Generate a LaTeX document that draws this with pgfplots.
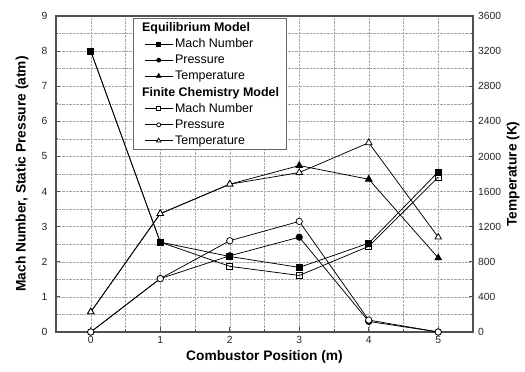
\documentclass[border=0pt]{standalone}
\usepackage{pgfplots}
\pgfplotsset{compat=1.18}
\usepackage{fontspec}
\setmainfont{Liberation Sans}
\setsansfont{Liberation Sans}
\definecolor{framec}{RGB}{80,80,80}
\definecolor{gridc}{RGB}{165,165,165}
\begin{document}
\begin{tikzpicture}
\pgfplotsset{
  common/.style={
    width=417bp, height=316bp, scale only axis,
    xmin=-0.5, xmax=5.5,
    /pgf/number format/assume math mode=true,
    /pgf/number format/1000 sep={},
    tick label style={font=\fontsize{10.4}{12}\selectfont, text=black!85},
    label style={font=\fontsize{13.8}{16}\selectfont\bfseries},
    axis line style={framec, line width=1.2pt},
    tick style={framec, line width=0.8pt},
    tick align=inside,
    major tick length=4.5bp, minor tick length=2.5bp,
  },
  every axis plot/.append style={black, line width=0.75pt},
}
\begin{axis}[common, name=ax,
  ymin=0, ymax=9,
  xtick={0,1,2,3,4,5}, minor x tick num=1,
  ytick={0,1,...,9}, minor y tick num=1,
  xtick pos=bottom, ytick pos=left,
  grid=both,
  major grid style={gridc, densely dotted, line width=0.5pt},
  minor grid style={gridc, densely dotted, line width=0.5pt},
  xlabel={Combustor Position (m)},
  ylabel={Mach Number, Static Pressure (atm)},
  xlabel style={at={(axis description cs:0.5,-0.08)}, anchor=center},
  ylabel style={at={(axis description cs:-0.0815,0.5)}, anchor=center},
  yticklabel style={xshift=-5bp},
  xticklabel style={yshift=-1bp},
]
% Equilibrium Mach
\addplot[mark=square*, mark options={fill=black, mark size=3pt}] coordinates {(0,8.0) (1,2.56) (2,2.15) (3,1.84) (4,2.53) (5,4.56)};
% Finite Mach
\addplot[mark=square, mark options={fill=white, mark size=3pt}] coordinates {(0,8.0) (1,2.56) (2,1.87) (3,1.61) (4,2.44) (5,4.41)};
% Equilibrium pressure
\addplot[mark=*, mark options={fill=black, mark size=3.2pt}] coordinates {(0,0.0) (1,1.52) (2,2.17) (3,2.70) (4,0.30) (5,0.0)};
% Finite pressure
\addplot[mark=*, mark options={fill=white, mark size=3.2pt}] coordinates {(0,0.0) (1,1.52) (2,2.60) (3,3.15) (4,0.34) (5,0.0)};
\end{axis}
\begin{axis}[common,
  ymin=0, ymax=3600,
  ytick={0,400,...,3600}, minor y tick num=1,
  axis y line*=right, axis x line=none,
  ylabel={Temperature (K)},
  ylabel style={at={(axis description cs:1.0959,0.5)}, anchor=center},
  yticklabel style={xshift=1.5bp},
  legend style={at={(0.1847,0.9937)}, anchor=north west, draw=black!60, line width=0.7pt,
    fill=white, font=\fontsize{12.5}{14}\selectfont, row sep=1.9pt, inner ysep=2pt, inner xsep=5pt},
  legend cell align=left,
  legend image code/.code={\path (0bp,0bp); \draw[mark repeat=2, mark phase=2] plot coordinates {(6bp,0bp) (20bp,0bp) (34bp,0bp)};},
]
\addlegendimage{empty legend}\addlegendentry{\hspace*{-33bp}\textbf{Equilibrium Model}}
\addlegendimage{black, line width=0.75pt, mark=square*, mark options={fill=black, mark size=2pt}}\addlegendentry{Mach Number}
\addlegendimage{black, line width=0.75pt, mark=*, mark options={fill=black, mark size=2pt}}\addlegendentry{Pressure}
\addplot[mark=triangle*, mark options={fill=black, mark size=3.8pt}, forget plot] coordinates {(0,228) (1,1348) (2,1684) (3,1896) (4,1740) (5,844)};
\addlegendimage{black, line width=0.75pt, mark=triangle*, mark options={fill=black, mark size=2.6pt}}\addlegendentry{Temperature}
\addlegendimage{empty legend}\addlegendentry{\hspace*{-33bp}\textbf{Finite Chemistry Model}}
\addlegendimage{black, line width=0.75pt, mark=square*, mark options={fill=white, mark size=2pt}}\addlegendentry{Mach Number}
\addlegendimage{black, line width=0.75pt, mark=*, mark options={fill=white, mark size=2pt}}\addlegendentry{Pressure}
\addplot[mark=triangle*, mark options={fill=white, mark size=3.8pt}, forget plot] coordinates {(0,228) (1,1348) (2,1684) (3,1816) (4,2156) (5,1080)};
\addlegendimage{black, line width=0.75pt, mark=triangle*, mark options={fill=white, mark size=2.6pt}}\addlegendentry{Temperature}
\end{axis}
\pgfresetboundingbox
\path ([shift={(-56bp,-40bp)}]ax.south west) rectangle ([shift={(52bp,16bp)}]ax.north east);
\end{tikzpicture}
\end{document}
